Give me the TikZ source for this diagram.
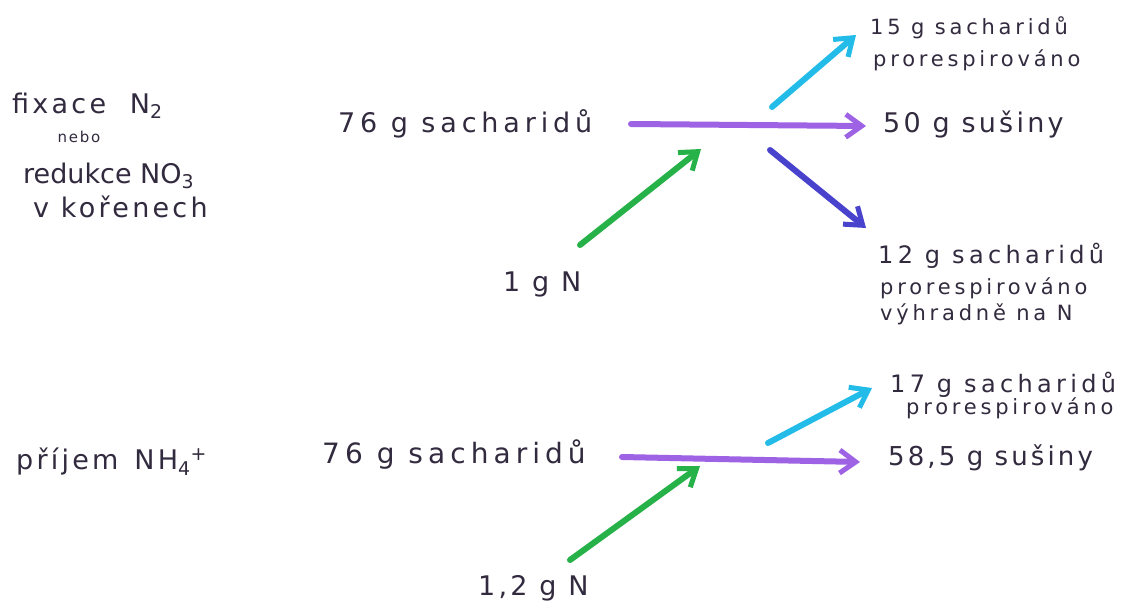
\documentclass[tikz,border=0pt]{standalone}
\usepackage{fontspec}
\setmainfont{DejaVu Sans}
\newfontfamily\hand[LetterSpace=12]{DejaVu Sans}
\newfontfamily\handw[LetterSpace=18]{DejaVu Sans}
\usetikzlibrary{arrows.meta}
\definecolor{ink}{RGB}{50,42,62}
\definecolor{cpurple}{RGB}{158,98,228}
\definecolor{ccyan}{RGB}{35,188,232}
\definecolor{cblue}{RGB}{72,66,205}
\definecolor{cgreen}{RGB}{38,178,72}
\tikzset{
  lbl/.style={text=ink, inner sep=0pt, font=\hand\fontsize{27}{30}\selectfont},
  lblw/.style={text=ink, inner sep=0pt, font=\handw\fontsize{27}{30}\selectfont},
  mid/.style={text=ink, inner sep=0pt, font=\handw\fontsize{24}{27}\selectfont, align=left},
  sml/.style={text=ink, inner sep=0pt, font=\handw\fontsize{21}{23}\selectfont, align=left},
  tiny/.style={text=ink, inner sep=0pt, font=\hand\fontsize{15}{17}\selectfont},
  flow/.style={line width=6pt, -{Straight Barb[length=16pt,width=23pt,line width=5pt]}, line cap=round}
}
\begin{document}
\begin{tikzpicture}[x=1pt,y=-1pt]
\useasboundingbox[fill=white] (0,0) rectangle (1127,610);
% left labels
\node[lbl, anchor=west] (fix) at (12,106) {fixace\ \hspace{12pt}N\textsubscript{2}};
\node[tiny] (nebo) at (79,137) {nebo};
\node[lbl, anchor=west, font=\fontsize{27}{30}\selectfont] (red) at (23,176) {redukce NO\textsubscript{3}};
\node[lbl, anchor=west] (kor) at (33,207) {v kořenech};
\node[lbl, anchor=west] (prij) at (16,462) {příjem\ \hspace{4pt}NH\textsubscript{4}\textsuperscript{+}};
% top block
\node[lblw, anchor=west] (s1) at (338,124) {76 g sacharidů};
\node[lbl, anchor=west] (n1) at (503,284) {1 g N};
\node[lbl, anchor=west] (d1) at (883,125) {50 g sušiny};
\node[sml, anchor=west] (r1a) at (870,28) {15 g sacharidů};
\node[sml, anchor=west] (r1b) at (873,60) {prorespirováno};
\node[mid, anchor=west] (v1a) at (878,256) {12 g sacharidů};
\node[sml, anchor=west] (v1b) at (880,288) {prorespirováno};
\node[sml, anchor=west] (v1c) at (880,314) {výhradně na N};
\coordinate (a1s) at (631,124);
\coordinate (a1e) at (866,126);
\coordinate (c1s) at (772,107);
\coordinate (c1e) at (856,35);
\coordinate (b1s) at (770,150);
\coordinate (b1e) at (866,228);
\coordinate (g1s) at (580,245);
\coordinate (g1e) at (701,149);
\draw[flow, cpurple] (a1s) -- (a1e);
\draw[flow, ccyan] (c1s) -- (c1e);
\draw[flow, cblue] (b1s) -- (b1e);
\draw[flow, cgreen] (g1s) -- (g1e);
% bottom block
\node[lblw, anchor=west, font=\handw\fontsize{28}{31}\selectfont] (s2) at (322,455) {76 g sacharidů};
\node[lbl, anchor=west] (n2) at (478,588) {1,2 g N};
\node[lbl, anchor=west, font=\hand\fontsize{26}{29}\selectfont] (d2) at (888,458) {58,5 g sušiny};
\node[mid, anchor=west] (r2a) at (890,385) {17 g sacharidů};
\node[sml, anchor=west] (r2b) at (906,408) {prorespirováno};
\coordinate (a2s) at (622,457);
\coordinate (a2e) at (860,462);
\coordinate (c2s) at (768,443);
\coordinate (c2e) at (872,388);
\coordinate (g2s) at (570,560);
\coordinate (g2e) at (700,466);
\draw[flow, cpurple] (a2s) -- (a2e);
\draw[flow, ccyan] (c2s) -- (c2e);
\draw[flow, cgreen] (g2s) -- (g2e);
\end{tikzpicture}
\end{document}
